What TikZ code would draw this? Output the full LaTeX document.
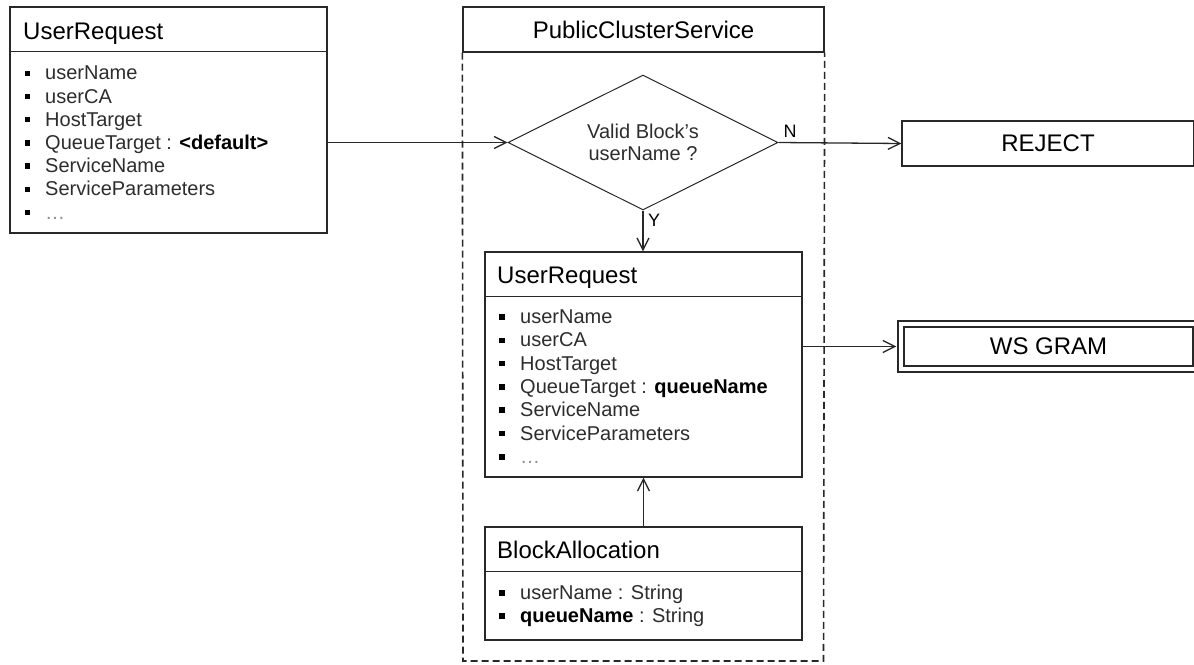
\documentclass[tikz,border=0pt]{standalone}
\usepackage{fontspec}
\setmainfont{Liberation Sans}
\usetikzlibrary{shapes.geometric,arrows.meta}
\definecolor{lc}{RGB}{40,40,40}
\definecolor{tc}{RGB}{45,45,45}
\definecolor{dc}{RGB}{140,140,140}
\begin{document}
\begin{tikzpicture}[x=1pt,y=-1pt,
  box/.style={draw=lc, line width=1.3pt, rectangle, inner sep=0pt},
  divline/.style={draw=lc, line width=1.3pt},
  ttl/.style={anchor=base west, inner sep=0pt, font=\fontsize{24}{28}\selectfont},
  itm/.style={anchor=base west, inner sep=0pt, text=tc, font=\fontsize{20}{24}\selectfont},
  sq/.style={fill=black, minimum size=5.5pt, inner sep=0pt, rectangle},
  arr/.style={draw=lc, line width=1.3pt, -{Straight Barb[length=12pt,width=12pt,line width=1.3pt]}},
  lbl/.style={inner sep=0pt, font=\fontsize{18}{20}\selectfont},
  bigtxt/.style={font=\fontsize{24}{28}\selectfont}
]
\useasboundingbox (0,0) rectangle (1194,664);

% ---- left UserRequest ----
\node[box, minimum width=317pt, minimum height=226pt] (ur1) at (168.5,120) {};
\draw[divline] ([yshift=-45pt]ur1.north west) -- ([yshift=-45pt]ur1.north east);
\node[ttl] (ur1t) at (23,39) {UserRequest};
\foreach \t [count=\i from 0] in {userName, userCA, HostTarget, {QueueTarget : \textcolor{black}{\textbf{<default>}}}, ServiceName, ServiceParameters, {\textcolor{dc}{…}}} {
  \node[sq] (ur1s\i) at (27.5,{73.3+23.2*\i}) {};
  \node[itm] (ur1i\i) at (45,{79.8+23.2*\i}) {\t};
}

% ---- PublicClusterService container ----
\node[box, bigtxt, minimum width=361pt, minimum height=45pt] (pcs) at (643.5,29.5) {PublicClusterService};
\coordinate (cbl) at (463,661);
\coordinate (cbr) at (823.5,661);
\draw[draw=lc, line width=1.6pt, dash pattern=on 7pt off 4pt] (pcs.south west) -- (cbl) -- (cbr) -- (pcs.south east);

% ---- decision ----
\node[draw=lc, line width=1pt, diamond, minimum width=270pt, minimum height=135pt, inner sep=0pt, aspect=2, align=center, text=tc, font=\fontsize{20}{22}\selectfont] (dia) at (643,142.5) {Valid Block's\\userName ?};

% ---- middle UserRequest ----
\node[box, minimum width=317pt, minimum height=225pt] (ur2) at (643.5,364.5) {};
\draw[divline] ([yshift=-45pt]ur2.north west) -- ([yshift=-45pt]ur2.north east);
\node[ttl] (ur2t) at (497,283) {UserRequest};
\foreach \t [count=\i from 0] in {userName, userCA, HostTarget, {QueueTarget : \textcolor{black}{\textbf{queueName}}}, ServiceName, ServiceParameters, {\textcolor{dc}{…}}} {
  \node[sq] (ur2s\i) at (502,{317+23.3*\i}) {};
  \node[itm] (ur2i\i) at (520,{323.5+23.3*\i}) {\t};
}

% ---- BlockAllocation ----
\node[box, minimum width=317pt, minimum height=113pt] (ba) at (643.5,583.5) {};
\draw[divline] ([yshift=-45pt]ba.north west) -- ([yshift=-45pt]ba.north east);
\node[ttl] (bat) at (497,558) {BlockAllocation};
\node[sq] (bas0) at (502,593) {};
\node[itm] (bai0) at (520,599.5) {userName : String};
\node[sq] (bas1) at (502,616) {};
\node[itm] (bai1) at (520,622.5) {\textcolor{black}{\textbf{queueName}} : String};

% ---- REJECT / WS GRAM ----
\node[box, bigtxt, minimum width=292pt, minimum height=45pt] (rej) at (1048,143.5) {REJECT};
\node[draw=lc, double, double distance=4pt, line width=1.8pt, bigtxt, minimum width=295pt, minimum height=45pt, inner sep=0pt] (wsg) at (1048.5,346.5) {WS GRAM};

% ---- connectors ----
\draw[arr] (ur1.east |- dia.west) -- (dia.west);
\draw[arr] (dia.east) -- (rej.west);
\node[lbl, anchor=center] (nl) at (790,131) {N};
\draw[arr] (dia.south) -- (ur2.north -| dia.south);
\node[lbl, anchor=center] (yl) at (654,220) {Y};
\draw[arr] (ur2.east |- wsg.west) -- ([xshift=-3.8pt]wsg.west);
\draw[arr] (ba.north) -- (ur2.south);
\end{tikzpicture}
\end{document}
